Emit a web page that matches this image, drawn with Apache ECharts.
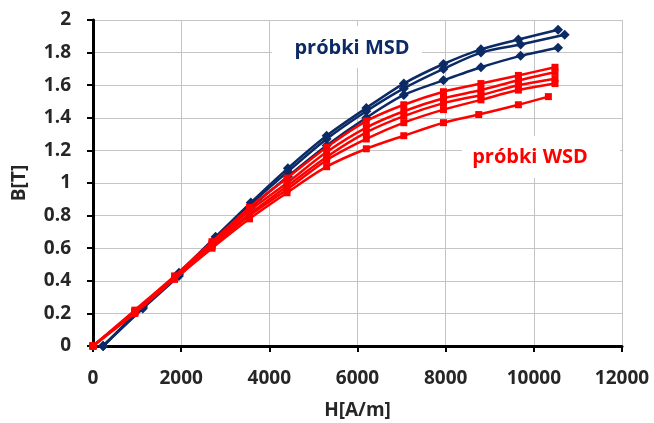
<!DOCTYPE html>
<html>
<head>
<meta charset="utf-8">
<script src="https://cdn.jsdelivr.net/npm/echarts@6/dist/echarts.min.js"></script>
<style>html,body{margin:0;padding:0;background:#fff;}#c{width:654px;height:423px;}</style>
</head>
<body>
<div id="c"></div>
<script>
// H [A/m] values per series
var hMSD1 = [230, 1130, 1950, 2780, 3580, 4420, 5300, 6200, 7050, 7950, 8800, 9650, 10550];
var hMSD2 = [230, 1130, 1950, 2780, 3580, 4420, 5300, 6200, 7050, 7950, 8800, 9700, 10700];
var hMSD3 = [230, 1130, 1950, 2780, 3580, 4420, 5300, 6200, 7050, 7950, 8800, 9700, 10550];
var hWSD = [0, 950, 1850, 2700, 3550, 4400, 5300, 6200, 7050, 7950, 8800, 9650, 10480];
var hWSD5 = [0, 950, 1850, 2700, 3550, 4400, 5300, 6200, 7050, 7950, 8750, 9650, 10330];
// B [T] values
var bMSD1 = [0, 0.24, 0.45, 0.67, 0.88, 1.09, 1.29, 1.46, 1.61, 1.73, 1.82, 1.88, 1.94];
var bMSD2 = [0, 0.24, 0.44, 0.66, 0.87, 1.07, 1.27, 1.44, 1.58, 1.70, 1.80, 1.85, 1.91];
var bMSD3 = [0, 0.23, 0.43, 0.65, 0.85, 1.04, 1.23, 1.40, 1.54, 1.63, 1.71, 1.78, 1.83];
var bWSD1 = [0, 0.22, 0.43, 0.64, 0.85, 1.03, 1.22, 1.38, 1.48, 1.56, 1.61, 1.66, 1.71];
var bWSD2 = [0, 0.21, 0.42, 0.63, 0.83, 1.00, 1.19, 1.34, 1.44, 1.52, 1.57, 1.63, 1.68];
var bWSD3 = [0, 0.21, 0.42, 0.62, 0.81, 0.98, 1.16, 1.31, 1.41, 1.49, 1.54, 1.60, 1.64];
var bWSD4 = [0, 0.21, 0.41, 0.61, 0.80, 0.96, 1.14, 1.27, 1.37, 1.45, 1.51, 1.57, 1.61];
var bWSD5 = [0, 0.20, 0.41, 0.60, 0.78, 0.94, 1.10, 1.21, 1.29, 1.37, 1.42, 1.48, 1.53];
var labelMSD = 'próbki MSD';
var labelWSD = 'próbki WSD';
var xName = 'H[A/m]';
var yName = 'B[T]';

var NAVY = '#0b2a66';
var RED = '#ff0000';
function pairs(h, b) { return h.map(function (x, i) { return [x, b[i]]; }); }
function navySeries(h, b) {
  return { type: 'line', data: pairs(h, b), smooth: 0.3, symbol: 'diamond', symbolSize: 10,
    showSymbol: true, lineStyle: { color: NAVY, width: 2.5 }, itemStyle: { color: NAVY }, z: 2, animation: false };
}
function redSeries(h, b) {
  return { type: 'line', data: pairs(h, b), smooth: 0.3, symbol: 'rect', symbolSize: 7,
    lineStyle: { color: RED, width: 2.5 }, itemStyle: { color: RED }, z: 3, animation: false };
}
var font = '"Open Sans", "DejaVu Sans", sans-serif';
var chart = echarts.init(document.getElementById('c'), null, { renderer: 'canvas' });
chart.setOption({
  backgroundColor: '#fff',
  animation: false,
  grid: { left: 93, right: 32, top: 20, bottom: 77, containLabel: false, outerBoundsMode: 'none' },
  xAxis: {
    type: 'value', min: 0, max: 12000, interval: 2000,
    name: xName, nameLocation: 'middle', nameGap: 55,
    nameTextStyle: { fontFamily: font, fontWeight: 'bold', fontSize: 19, color: '#262626' },
    axisLine: { onZero: false, lineStyle: { color: '#000', width: 3 } },
    axisTick: { show: true, length: 6, lineStyle: { color: '#000', width: 2 } },
    axisLabel: { margin: 23, fontFamily: font, fontWeight: 'bold', fontSize: 19, color: '#262626',
      formatter: function (v) { return String(v); } },
    splitLine: { show: true, lineStyle: { color: '#c4c4c4', width: 1 } }
  },
  yAxis: {
    type: 'value', min: 0, max: 2, interval: 0.2,
    name: yName, nameLocation: 'middle', nameGap: 64,
    nameTextStyle: { fontFamily: font, fontWeight: 'bold', fontSize: 19, color: '#262626' },
    axisLine: { show: true, onZero: false, lineStyle: { color: '#000', width: 3 } },
    axisTick: { show: true, length: 6, lineStyle: { color: '#000', width: 2 } },
    axisLabel: { margin: 22, fontFamily: font, fontWeight: 'bold', fontSize: 19, color: '#262626',
      formatter: function (v) { return String(Math.round(v * 10) / 10); } },
    splitLine: { show: true, lineStyle: { color: '#c4c4c4', width: 1 } }
  },
  series: [
    navySeries(hMSD1, bMSD1), navySeries(hMSD2, bMSD2), navySeries(hMSD3, bMSD3),
    redSeries(hWSD, bWSD1), redSeries(hWSD, bWSD2), redSeries(hWSD, bWSD3), redSeries(hWSD, bWSD4), redSeries(hWSD5, bWSD5)
  ],
  graphic: [
    { type: 'rect', z: 50, shape: { x: 272, y: 26, width: 150, height: 42 }, style: { fill: '#fff' } },
    { type: 'text', z: 51, x: 352, y: 48, style: { text: labelMSD, fill: NAVY, font: 'bold 20px ' + font, align: 'center', verticalAlign: 'middle' } },
    { type: 'rect', z: 50, shape: { x: 462, y: 136, width: 158, height: 42 }, style: { fill: '#fff' } },
    { type: 'text', z: 51, x: 530, y: 157, style: { text: labelWSD, fill: RED, font: 'bold 20px ' + font, align: 'center', verticalAlign: 'middle' } }
  ]
});
</script>
</body>
</html>
